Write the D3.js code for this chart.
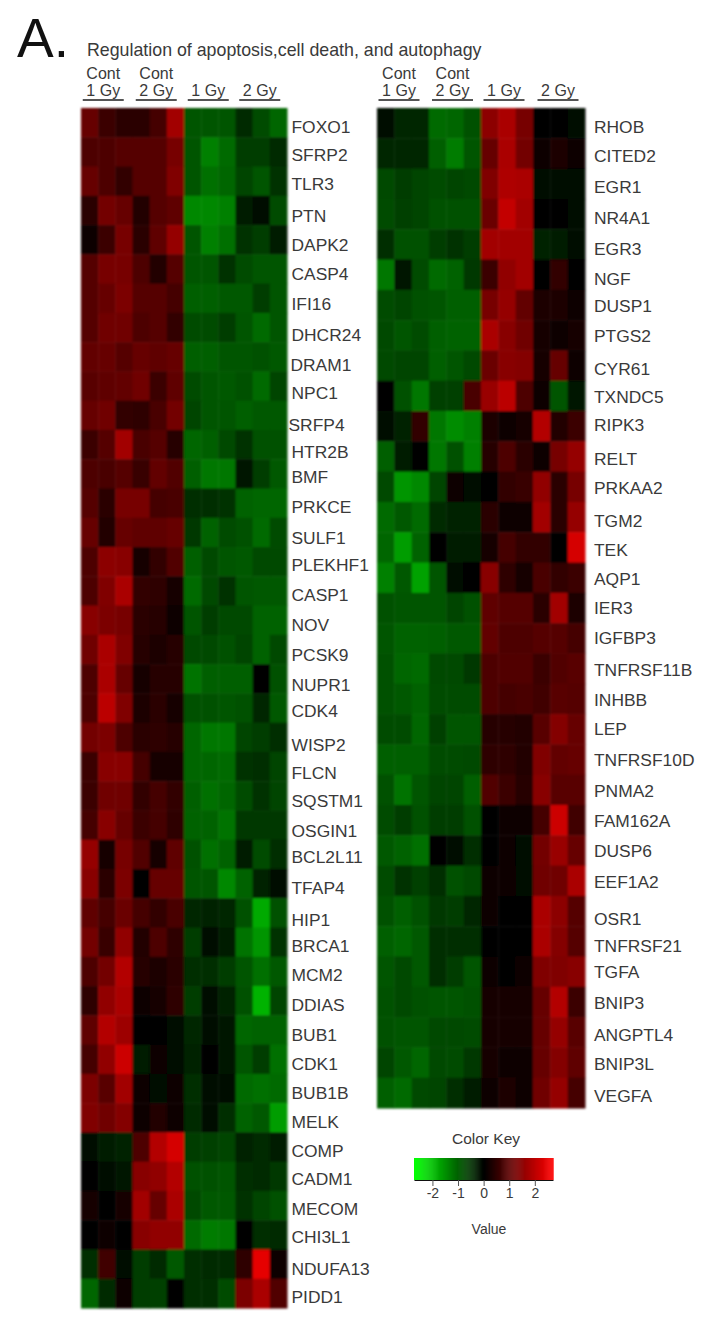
<!DOCTYPE html>
<html>
<head>
<meta charset="utf-8">
<script src="https://cdn.jsdelivr.net/npm/d3@7"></script>
<style>
    html, body { margin: 0; padding: 0; background: #fff; }
    svg { display: block; }
    text { font-family: "Liberation Sans", Arial, sans-serif; fill: #3a3a3a; }
</style>
</head>
<body>
<svg id="canvas" width="706" height="1322"></svg>
<script>
// column groups
const groupTop = ["Cont", "Cont", "", ""];
const groupBottom = ["1 Gy", "2 Gy", "1 Gy", "2 Gy"];
const keyTicks = [-2, -1, 0, 1, 2];

const leftGenes = ["FOXO1","SFRP2","TLR3","PTN","DAPK2","CASP4","IFI16","DHCR24","DRAM1","NPC1","SRFP4","HTR2B","BMF","PRKCE","SULF1","PLEKHF1","CASP1","NOV","PCSK9","NUPR1","CDK4","WISP2","FLCN","SQSTM1","OSGIN1","BCL2L11","TFAP4","HIP1","BRCA1","MCM2","DDIAS","BUB1","CDK1","BUB1B","MELK","COMP","CADM1","MECOM","CHI3L1","NDUFA13","PIDD1"];
const rightGenes = ["RHOB","CITED2","EGR1","NR4A1","EGR3","NGF","DUSP1","PTGS2","CYR61","TXNDC5","RIPK3","RELT","PRKAA2","TGM2","TEK","AQP1","IER3","IGFBP3","TNFRSF11B","INHBB","LEP","TNFRSF10D","PNMA2","FAM162A","DUSP6","EEF1A2","OSR1","TNFRSF21","TGFA","BNIP3","ANGPTL4","BNIP3L","VEGFA"];

const leftValues = [
    [1.2,.7,.5,.5,.8,1.9,-1,-1,-1,-.5,-.9,-1.2],
    [.9,.9,1,1,1,1.4,-1,-1.5,-1.25,-.7,-.7,-.5],
    [1.2,.9,.6,1,1,1.5,-1,-1.3,-1.2,-.8,-1,-.6],
    [.5,1.35,1.2,.4,1,1.1,-1.6,-1.6,-1.5,-.3,-.1,-.9],
    [.15,.7,1.4,.5,1.1,1.75,-1,-1.5,-1.3,-.6,-.7,-.3],
    [1,1.4,1.4,.9,.4,1,-1,-1,-.6,-.9,-1,-1],
    [1,1.2,1.45,1,1,.8,-1.1,-1.1,-1.05,-1.05,-.7,-1],
    [1,1.3,1.3,.9,1,.6,-.9,-.9,-.7,-1,-1.25,-1],
    [1.15,1.2,1,1.2,1.1,1.2,-1.1,-1.1,-1,-1,-.95,-1.05],
    [1.05,1.1,1.15,1.3,.7,1.1,-.9,-1,-1.05,-.95,-1.25,-.8],
    [1.2,1.3,.6,.55,.85,1.35,-.8,-1,-1,-1.1,-1.05,-1.05],
    [.7,1,1.9,.85,1,.45,-1.2,-1.1,-.85,-.6,-.95,-.95],
    [.9,.85,1,.65,1.15,.95,-1.1,-1.4,-1.4,-.25,-.7,-1.05],
    [1,.5,1.4,1.4,.8,.85,-.55,-.55,-.6,-1.15,-1.2,-1.2],
    [1.2,.4,1.2,1.1,1.1,1.2,-.65,-1.15,-.9,-.95,-1.25,-.9],
    [.9,1.65,1.6,.3,.6,.95,-1.1,-.85,-1,-1.05,-.85,-.85],
    [.9,1.5,2,.6,.55,.25,-1.25,-.85,-.6,-1,-1.05,-1.05],
    [1.6,1.45,1.4,.5,.45,.1,-1,-.7,-.85,-.85,-1.15,-1.15],
    [1.3,2,1.5,.45,.35,.45,-.85,-.85,-.95,-.8,-1.15,-.85],
    [.9,2,1.2,.3,.45,.45,-1.35,-1.1,-1.1,-1.1,-.05,-.95],
    [.9,2.2,1.5,.35,.5,.25,-.95,-.95,-1,-.95,-.45,-1.05],
    [1.35,1.45,.9,.5,.55,.45,-1.2,-1.4,-1.4,-.8,-.7,-.55],
    [.7,1.6,1.6,.8,.3,.3,-1.2,-1.2,-1.25,-.6,-.55,-.8],
    [.7,1.3,1.3,.6,.8,.6,-1.1,-1.3,-1.2,-.9,-.6,-.8],
    [.8,1.6,1.2,.7,.8,.55,-1.15,-1.15,-1.35,-.65,-.65,-.65],
    [1.75,.25,1.4,.95,.25,1.1,-.95,-1.3,-1.15,-.3,-.9,-.55],
    [1.6,.5,1.45,0,1.2,1.2,-1,-1,-1.6,-1.15,-.4,-.2],
    [1.1,.8,1.25,.8,.6,.85,-.45,-.4,-.45,-.95,-2,-.95],
    [1.35,.65,1.7,.4,.9,.55,-.7,-.15,-.35,-1.35,-1.75,-.6],
    [.9,1.35,2.1,.45,.35,.5,-.55,-.55,-.7,-1,-1.3,-1.05],
    [.55,1.7,2,.1,.3,.55,-.7,-.2,-.4,-.95,-2.1,-.8],
    [1.1,2.1,1.85,.05,.02,-.15,-.45,-.2,-.25,-1.2,-1.15,-1.15],
    [.8,1.7,2.4,-.35,.1,-.2,-.4,.05,-.25,-1,-.7,-1.3],
    [1.45,1.05,1.9,.1,-.2,.1,-.55,-.2,-.15,-1.25,-1.3,-1.25],
    [1.5,1.3,1.55,.1,.4,.2,-.5,-.2,-.55,-1.15,-1.05,-1.85],
    [-.1,-.35,-.4,.9,2.1,2.5,-.7,-.75,-.8,-.4,-.5,-.35],
    [-.05,-.15,-.25,1.6,1.7,2.1,-.95,-.95,-1,-.55,-.5,-.65],
    [.25,-.05,.25,1.9,1.2,2,-.85,-1.05,-1.05,-.6,-.8,-.95],
    [0,.2,.02,1.6,1.7,1.7,-1.25,-1.45,-1.4,0,-.55,-.5],
    [-.55,.75,-.1,-.7,-.5,-1.05,-.55,-.5,-.5,.55,2.7,.1],
    [-1.2,-.5,.15,-.7,-.75,0,-.55,-.55,-.9,1.45,2,.95]
];

const rightValues = [
    [-.1,-.45,-.45,-1.25,-1.2,-.95,1.65,2,1.4,-.05,.05,-.15],
    [-.45,-.45,-.45,-1.1,-1.45,-1,1.2,2,1.35,.15,.35,.1],
    [-.85,-.7,-.8,-.9,-.8,-.85,1.5,2.05,2,-.2,-.2,-.15],
    [-.9,-.75,-.8,-.95,-.95,-.95,1.25,2.3,1.9,0,0,-.15],
    [-.55,-.95,-.95,-.7,-.6,-.7,1.9,1.9,1.9,-.4,-.35,-.1],
    [-1.4,-.25,-.9,-1.25,-1.15,-.65,.7,1.7,1.9,0,.6,-.05],
    [-.9,-.8,-.95,-1,-1.1,-1.1,1.4,1.75,1.15,.35,.35,.15],
    [-.85,-1,-.9,-1.1,-1.15,-1.15,2,1.6,1.3,.3,.1,.25],
    [-.85,-.8,-.8,-1.1,-1,-.85,1.25,1.6,1.55,.3,1.2,.15],
    [0,-.95,-1.4,-.75,-.75,.85,1.8,2.2,.9,.1,-1,-.25],
    [-.2,-.4,.6,-1.4,-1.65,-1.5,.35,.15,.3,2.1,.4,.7],
    [-1.1,-.35,-.05,-1.4,-.95,-1.5,.45,.9,.5,.2,1.4,1.75],
    [-.85,-1.75,-1.6,-.8,.1,-.2,-.02,.6,.65,1.7,.5,1.4],
    [-1.25,-1.05,-1.25,-.5,-.4,-.4,.5,.15,.12,1.9,.5,1.75],
    [-1.2,-1.85,-1.15,-.05,-.3,-.3,.3,.8,.6,.6,0,2.5],
    [-1.5,-1.05,-1.9,-1,-.1,0,1.6,.55,.25,.85,.6,.7],
    [-.95,-1,-1,-1,-.8,-.95,1.1,1,1,.5,1.9,.35],
    [-1,-1.15,-1.15,-1.1,-1.05,-1.05,1.15,.9,.9,1,1,.8],
    [-.95,-1.2,-1.25,-.85,-.85,-.65,.9,.95,.95,.7,.95,1.05],
    [-.95,-1.05,-1.15,-.9,-.9,-.9,.9,.8,.85,.75,1.05,1],
    [-.9,-.9,-1.2,-.75,-1,-1,.45,.45,.4,1.05,1.55,1.2],
    [-1.1,-1.1,-1.1,-.9,-.9,-.85,.55,.55,.4,1.5,1.15,1.2],
    [-.95,-1.35,-1,-.8,-.8,-1.1,.95,.7,.45,1.6,1.05,1.05],
    [-.9,-.7,-.95,-.7,-.7,-.95,0,.1,.1,.8,2.4,.75],
    [-1.05,-1.15,-1.3,-.05,-.2,-.55,-.05,.12,-.15,1.35,1.8,1.2],
    [-.9,-.6,-.75,-.55,-.95,-.85,.15,.15,-.2,1.3,1.3,2],
    [-.95,-1.1,-.95,-.65,-.7,-.45,.2,.02,-.05,2,1.65,1],
    [-1.1,-1.2,-1.05,-.55,-.55,-.55,-.02,.05,.02,2,1.55,1],
    [-1,-.85,-1.05,-.55,-.7,-1,.08,.03,.2,1.5,1.5,1.6],
    [-.95,-.85,-.95,-1,-1,-.95,.3,.3,.3,1.2,2.1,.7],
    [-.95,-1,-1,-.85,-.85,-.9,.25,.25,.3,1.2,1.75,1.05],
    [-.8,-1.05,-1.2,-.85,-.9,-.65,.3,.2,.15,1.2,1.55,1.1],
    [-1.1,-1.25,-.85,-.8,-.55,-.3,.2,.35,.15,1.3,1.75,.8]
];

// the gene labels were placed by hand in the original, so they sit off the row centre
const leftLabelNudge = [4,3,3,5,5,5,5,7,8,7,9,7,3,4,5,3,4,5,5,6,3,7,6,5,6,2,4,7,4,3,4,5,5,4,4,4,2,3,2,5,3];
const rightLabelNudge = [4,2,3,4,4,4,1,0,3,1,-1,2,1,4,2,1,0,-1,1,1,0,0,1,1,0,1,8,4,0,1,2,1,3];
const labelShift = { SRFP4: -3, DRAM1: -1 };

const svg = d3.select("#canvas");
const keyColor = d3.scaleLinear().domain([-2.7, 0, 2.7]).range(["#00ff00", "#000000", "#ff0000"]);
// cells read a bit dimmer than my estimates
const color = d3.scaleLinear().domain([-3, 0, 3]).range(["#00ff00", "#000000", "#ff0000"]);

// slight softening, the reference is a rescaled bitmap
svg.append("defs").append("filter")
    .attr("id", "soft")
    .attr("x", "-2%").attr("y", "-2%").attr("width", "104%").attr("height", "104%")
    .append("feGaussianBlur").attr("stdDeviation", 0.9);

svg.append("text").attr("x", 17).attr("y", 57)
    .style("font-size", "55px").style("fill", "#111").text("A.");

svg.append("text").attr("x", 87).attr("y", 56)
    .style("font-size", "17.8px").text("Regulation of apoptosis,cell death, and autophagy");

function drawPanel(genes, values, nudge, x0, x1, y0, y1, headerOffset, labelGap) {
    const x = d3.scaleBand().domain(d3.range(12)).range([x0, x1]);
    const y = d3.scaleBand().domain(genes).range([y0, y1]);

    svg.append("g").attr("filter", "url(#soft)")
        .selectAll("g").data(values).join("g")
        .attr("transform", (d, i) => `translate(0,${y(genes[i])})`)
        .selectAll("rect").data(d => d).join("rect")
        .attr("x", (d, j) => x(j))
        .attr("width", x.bandwidth() + 0.5)
        .attr("height", y.bandwidth() + 0.5)
        .attr("fill", d => color(d));

    svg.append("g").selectAll("text").data(genes).join("text")
        .attr("x", d => x1 + labelGap + (labelShift[d] || 0))
        .attr("y", (d, i) => y(d) + y.bandwidth() / 2 + nudge[i])
        .attr("dy", "0.36em")
        .style("font-size", "17.4px")
        .text(d => d);

    groupBottom.forEach((label, k) => {
        const cx = x(k * 3) + x.bandwidth() * 1.5 + headerOffset[k];
        svg.append("line")
            .attr("x1", cx - 20.5).attr("x2", cx + 20.5)
            .attr("y1", 100).attr("y2", 100)
            .attr("stroke", "#555").attr("stroke-width", 1.8);
        svg.append("text").attr("x", cx).attr("y", 96)
            .attr("text-anchor", "middle").style("font-size", "16px").text(label);
        if (groupTop[k]) {
            svg.append("text").attr("x", cx).attr("y", 79)
                .attr("text-anchor", "middle").style("font-size", "16px").text(groupTop[k]);
        }
    });
}

drawPanel(leftGenes, leftValues, leftLabelNudge, 81, 287, 108, 1308, [-3.5, -2, -1.5, -1.5], 4.5);
drawPanel(rightGenes, rightValues, rightLabelNudge, 377, 585, 108, 1108, [-4, -2.5, -3, -1], 9);

// colour key
const keyX = d3.scaleLinear().domain([-2.72, 2.71]).range([414, 553]);
const keySteps = d3.range(-2.72, 2.71, 0.04);

svg.append("g").selectAll("rect").data(keySteps).join("rect")
    .attr("x", d => keyX(d))
    .attr("y", 1158)
    .attr("width", keyX(0.04) - keyX(0) + 0.4)
    .attr("height", 22)
    .attr("fill", d => keyColor(d));

const keyAxis = svg.append("g").attr("transform", "translate(0,1180)")
    .call(d3.axisBottom(keyX).tickValues(keyTicks).tickSize(6).tickSizeOuter(0).tickFormat(d => String(d)));
keyAxis.select(".domain").attr("stroke", "#111").attr("stroke-width", 1.2);
keyAxis.selectAll(".tick line").attr("stroke", "#555");
keyAxis.selectAll(".tick text").attr("y", 8)
    .style("font-family", "'Liberation Sans', Arial, sans-serif")
    .style("font-size", "14px").style("fill", "#3a3a3a");

svg.append("text").attr("x", 486).attr("y", 1144)
    .attr("text-anchor", "middle").style("font-size", "15.5px").text("Color Key");
svg.append("text").attr("x", 489).attr("y", 1234)
    .attr("text-anchor", "middle").style("font-size", "14px").text("Value");
</script>
</body>
</html>
